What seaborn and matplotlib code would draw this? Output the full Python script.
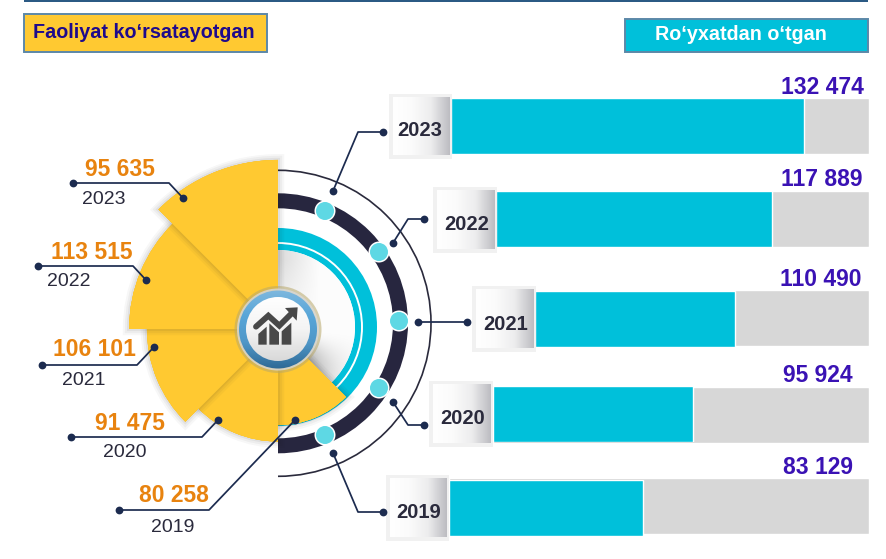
import numpy as np
import matplotlib
matplotlib.use("Agg")
import matplotlib.pyplot as plt
import matplotlib.patheffects as pe
from matplotlib.patches import Rectangle, Wedge, Circle, Polygon, Arc
from matplotlib.colors import LinearSegmentedColormap
import seaborn as sns

# ---------- data ----------
years = ["2023", "2022", "2021", "2020", "2019"]
active = [95635, 113515, 106101, 91475, 80258]
registered = [132474, 117889, 110490, 95924, 83129]
# the picture does not share one scale between rows: drawn share of each track / plot radius
fill_share = [0.844, 0.740, 0.599, 0.532, 0.462]
wedge_share = [0.966, 0.851, 0.749, 0.643, 0.549]

active_title = "Faoliyat ko‘rsatayotgan"
registered_title = "Ro‘yxatdan o‘tgan"

# ---------- layout (pixels) ----------
W, H = 887, 559
CX, CY = 278, 329
R_PLOT = 175
TRACK_RIGHT = 869
wedge_from = [90, 135, 180, 225, 270]
wedge_span = 45
track_rows = [(451, 98, 154), (496, 191, 247), (535, 290, 346), (493, 387, 443), (449, 478, 534)]
fill_rows = [(98, 154), (191, 247), (291, 347), (386, 442), (480, 536)]
box_rows = [(393, 97, 451, 155), (437, 190, 496, 249), (476, 289, 535, 348),
            (433, 384, 492, 443), (390, 478, 448, 537)]
box_label = [(420, 131), (467, 224), (505.5, 324), (463, 418), (419, 512)]
reg_text = [(864, 88), (863, 179), (862, 280), (853, 376), (853, 468)]
left_links = [[(73, 183), (169, 183), (183, 198)], [(38, 266), (133, 266), (146, 280)],
              [(42, 365), (137, 365), (154, 347)], [(71, 437), (202, 437), (218, 420)],
              [(119, 510), (209, 510), (295, 420)]]
val_text = [(120, 169), (92, 252.5), (94, 350), (130, 424), (174, 495)]
yr_text = [(104, 199.5), (69, 281.5), (84, 380.5), (125, 452.5), (173, 527.5)]
right_links = [[(333, 191), (358, 132), (383, 132)], [(393, 243), (408, 219), (424, 219)],
               [(418, 322), (467, 322)], [(393, 402), (408, 425), (424, 425)],
               [(333, 453), (358, 512), (383, 512)]]
node_dots = [(325, 211), (379, 252), (399, 321), (379, 388), (325, 435)]

YELLOW, CYAN, GRAY = "#FFC931", "#00C0DA", "#D7D7D7"
NAVY, INK, ORANGE, VIOLET = "#1C2B4F", "#2A2A3C", "#E8830F", "#3A12B4"
EDGE = "#5C88A8"

sns.set_theme(style="white")
plt.rcParams["font.family"] = ["Liberation Sans", "DejaVu Sans"]

fig = plt.figure(figsize=(W / 100, H / 100), dpi=100, facecolor="white")


def rect_axes(x0, y0, x1, y1, z, **kw):
    ax = fig.add_axes([x0 / W, 1 - y1 / H, (x1 - x0) / W, (y1 - y0) / H], zorder=z, **kw)
    ax.patch.set_visible(False)
    return ax


def pixel_axes(z):
    ax = rect_axes(0, 0, W, H, z)
    ax.set_xlim(0, W)
    ax.set_ylim(H, 0)
    ax.axis("off")
    return ax


# ---------- background layer ----------
bg = pixel_axes(0)
bg.add_patch(Rectangle((24, 0), 844, 1.6, fc="#2B5A84", ec="none"))
bg.add_patch(Rectangle((24, 13.5), 243, 38.5, fc=YELLOW, ec=EDGE, lw=1.4))
bg.add_patch(Rectangle((625.5, 18.5), 243, 33.5, fc=CYAN, ec=EDGE, lw=1.4))
bg.text(143.5, 32.5, active_title, color="#1E0A8C", fontsize=14.2, fontweight="bold", ha="center", va="center")
bg.text(740.5, 34.5, registered_title, color="white", fontsize=14.2, fontweight="bold", ha="center", va="center")

# rings
bg.add_patch(Arc((CX, 323.3), 306, 306, theta1=-90, theta2=90, color=INK, lw=1.2))
bg.add_patch(Wedge((CX, 323.3), 130, -90, 90, width=15, fc="#27263F", ec="none"))
bg.add_patch(Wedge((CX, 327), 99, -90, 90, width=22, fc=CYAN, ec="none"))
bg.add_patch(Arc((CX, 327), 168, 168, theta1=-90, theta2=90, color="white", lw=1.4))

# shaded half disc
xx, yy = np.meshgrid(np.linspace(CX, CX + 80, 160), np.linspace(CY - 80, CY + 80, 320))
dx, dy = xx - CX, CY - yy
ang = np.degrees(np.arctan2(dy, dx))
rad = np.hypot(dx, dy)
shade = 0.985 - 0.13 * np.clip(1 - dx / 40, 0, 1) * np.clip(dy / 70, 0, 1)
shade -= 0.5 * np.clip(1 - (ang + 45) / 40, 0, 1) ** 1.5 * np.clip(1.15 - rad / 80, 0.2, 1)
disc_img = bg.imshow(np.clip(shade, 0, 1), extent=(CX, CX + 80, CY + 80, CY - 80), cmap="gray",
                     vmin=0, vmax=1, aspect="auto", zorder=2)
disc_clip = Wedge((CX, 327), 77, -90, 90, fc="none", ec="none", transform=bg.transData)
bg.add_patch(disc_clip)
disc_img.set_clip_path(disc_clip)
bg.set_xlim(0, W)
bg.set_ylim(H, 0)

# ---------- rose: one polar bar per year, each on its own radial scale ----------
for i, (yr, val, share) in enumerate(zip(years, active, wedge_share)):
    pax = rect_axes(CX - R_PLOT, CY - R_PLOT, CX + R_PLOT, CY + R_PLOT, 1 + (5 - i) * 0.1, projection="polar")
    theta = np.radians(wedge_from[i] + wedge_span / 2)
    bars = pax.bar([theta], [val], width=np.radians(wedge_span), color=YELLOW, lw=0)
    for b in bars:
        b.set_path_effects([
            pe.withStroke(linewidth=9, foreground="k", alpha=0.03),
            pe.withStroke(linewidth=6, foreground="k", alpha=0.045),
            pe.withStroke(linewidth=3, foreground="k", alpha=0.06),
            pe.Normal()])
    pax.set_ylim(0, val / share)
    pax.axis("off")

# ---------- registered bars: track and fill on each row's own scale ----------
for i, (yr, val, share) in enumerate(zip(years, registered, fill_share)):
    left, t0, t1 = track_rows[i]
    f0, f1 = fill_rows[i]
    full = val / share
    tax = rect_axes(left, t0, TRACK_RIGHT, t1, 2)
    sns.barplot(x=[full], y=[yr], orient="h", color=GRAY, saturation=1, width=1, ax=tax)
    fax = rect_axes(left, f0, TRACK_RIGHT, f1, 2.1)
    sns.barplot(x=[val], y=[yr], orient="h", color=CYAN, saturation=1, width=1, ax=fax)
    for a in (tax, fax):
        a.set_xlim(0, full)
        a.axis("off")

# ---------- foreground layer ----------
fg = pixel_axes(10)

# year boxes with gradient
grad = LinearSegmentedColormap.from_list("box", ["#FFFFFF", "#FBFBFB", "#EDEDEE", "#BDBDC2"])
for (x0, y0, x1, y1), yr, (lx, ly) in zip(box_rows, years, box_label):
    fg.add_patch(Rectangle((x0 - 3.5, y0 - 3.5), x1 - x0 + 5, y1 - y0 + 7, fc="#F1F1F1", ec="none", zorder=1))
    fg.imshow(np.linspace(0, 1, 64).reshape(1, -1), extent=(x0, x1 - 1, y1, y0), cmap=grad,
              aspect="auto", zorder=2)
    fg.text(lx, ly, yr, color=INK, fontsize=14.5, fontweight="bold", ha="center", va="center", zorder=3)

for (x, y), val in zip(reg_text, registered):
    fg.text(x, y, f"{val:,}".replace(",", " "), color=VIOLET, fontsize=16.5, fontweight="bold",
            ha="right", va="center", zorder=5)

for (x, y), val in zip(val_text, active):
    fg.text(x, y, f"{val:,}".replace(",", " "), color=ORANGE, fontsize=16.5, fontweight="bold",
            ha="center", va="center", zorder=5)
for (x, y), yr in zip(yr_text, years):
    fg.text(x, y, yr, color=INK, fontsize=14, ha="center", va="center", zorder=5)

# connectors
for link in left_links + right_links:
    xs, ys = zip(*link)
    fg.plot(xs, ys, color=NAVY, lw=1.25, zorder=4, solid_capstyle="round")
    fg.plot([xs[0], xs[-1]], [ys[0], ys[-1]], ls="none", marker="o", ms=5.6, color=NAVY, mec="none", zorder=4)

# ring nodes
for x, y in node_dots:
    fg.add_patch(Circle((x, y), 10.5, fc="white", ec="none", zorder=3))
    fg.add_patch(Circle((x, y), 9, fc="#5ED8E4", ec="none", zorder=3.1))

# centre badge
fg.add_patch(Circle((CX, CY + 0.5), 43.5, fc="#B8A86A", alpha=0.55, ec="none", zorder=6))
fg.add_patch(Circle((CX, CY + 0.5), 41, fc="#D9D9D9", alpha=0.8, ec="none", zorder=6.1))
ring_cmap = LinearSegmentedColormap.from_list("ring", ["#7FB8DE", "#58A6D8", "#4F97C8", "#2F6A96"])
ring = fg.imshow(np.linspace(0, 1, 64).reshape(-1, 1), extent=(CX - 40, CX + 40, CY + 40.5, CY - 39.5),
                 cmap=ring_cmap, aspect="auto", zorder=6.2)
ring_clip = Circle((CX, CY + 0.5), 39, transform=fg.transData, fc="none", ec="none")
fg.add_patch(ring_clip)
ring.set_clip_path(ring_clip)
face_cmap = LinearSegmentedColormap.from_list("face", ["#FFFFFF", "#F4F4F4", "#D8D8D8"])
face = fg.imshow(np.linspace(0, 1, 64).reshape(-1, 1), extent=(CX - 33, CX + 33, CY + 33, CY - 33),
                 cmap=face_cmap, aspect="auto", zorder=6.3)
face_clip = Circle((CX, CY), 32, transform=fg.transData, fc="none", ec="none")
fg.add_patch(face_clip)
face.set_clip_path(face_clip)


def ic(z):
    return [(230 + a / 3, 285 + b / 3 - 1) for a, b in z]


ICON = "#484848"
for poly in ([(85, 150), (110, 128), (110, 182), (85, 182)],
             [(118, 118), (147, 145), (147, 182), (118, 182)],
             [(155, 142), (184, 116), (184, 182), (155, 182)]):
    fg.add_patch(Polygon(ic(poly), fc=ICON, ec="none", zorder=6.5))
zig = ic([(78, 128), (115, 95), (148, 125), (185, 88)])
fg.plot(*zip(*zig), color=ICON, lw=4.2, zorder=6.5, solid_capstyle="round", solid_joinstyle="miter")
fg.add_patch(Polygon(ic([(165, 72), (203, 70), (200, 110)]), fc=ICON, ec="none", zorder=6.5))

fg.set_xlim(0, W)
fg.set_ylim(H, 0)

fig.savefig("out.png", dpi=100, facecolor="white")
